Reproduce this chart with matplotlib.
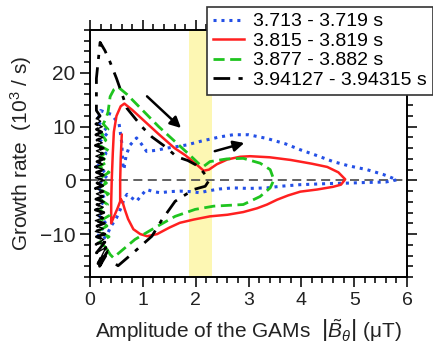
import matplotlib

matplotlib.use("Agg")
import matplotlib.pyplot as plt
from matplotlib.ticker import MultipleLocator

plt.rcParams["font.family"] = ["Liberation Sans", "DejaVu Sans"]
plt.rcParams["mathtext.fontset"] = "custom"
plt.rcParams["mathtext.rm"] = "Liberation Sans"
plt.rcParams["mathtext.it"] = "Liberation Sans:italic"

# ---- data: |B_theta| (uT) vs growth rate (1e3/s) ----
labels = ["3.713 - 3.719 s", "3.815 - 3.819 s", "3.877 - 3.882 s", "3.94127 - 3.94315 s"]

blue_x = [0.14, 0.3, 0.12, 0.28, 0.15, 0.33, 0.13, 0.3, 0.16, 0.35, 0.14, 0.2,
          0.4, 0.55, 0.6, 0.62, 0.64, 0.68, 0.75, 0.88, 0.97, 1.07, 1.25, 1.45,
          1.65, 1.83, 2.1, 2.46, 2.71, 3.0, 3.35, 3.7, 3.98, 4.3, 4.6, 4.9,
          5.24, 5.55, 5.81, 5.6, 5.2, 4.92, 4.5, 3.98, 3.6, 3.35, 3.0, 2.71,
          2.45, 2.21, 2.08, 1.9, 1.7, 1.5, 1.33, 1.2, 1.07, 0.97, 0.88, 0.78,
          0.7, 0.64, 0.6, 0.5, 0.4, 0.34, 0.25, 0.15]
blue_y = [-10.5, -8, -6, -3.5, -1, 1, 3, 5, 7, 9, 11, 13,
          12.3, 10.5, 7, 3, 2, 4.5, 6.5, 7.9, 6.8, 5.4, 5.6, 6.0,
          6.3, 6.6, 7.3, 8.1, 8.5, 8.5, 7.8, 6.8, 5.7, 4.6, 3.5, 2.7,
          2.0, 1.1, 0.1, -0.3, -0.4, -0.5, -0.6, -0.8, -1.1, -1.4, -1.5, -1.4,
          -1.6, -2.0, -2.3, -2.1, -2.0, -2.1, -2.3, -2.1, -1.7, -2.8, -3.9, -3.2,
          -2.6, -3.5, -4.8, -7.0, -8.5, -9.7, -11.0, -10.5]

red_x = [0.6, 0.58, 0.57, 0.57, 0.52, 0.45, 0.4, 0.4, 0.41, 0.43, 0.45, 0.5,
         0.58, 0.65, 0.8, 1.0, 1.3, 1.6, 1.8, 2.0, 2.15, 2.25, 2.4, 2.6,
         2.84, 3.03, 3.4, 3.8, 4.2, 4.49, 4.7, 4.83, 4.75, 4.6, 4.3, 3.98,
         3.75, 3.54, 3.35, 3.16, 2.9, 2.6, 2.27, 1.96, 1.7, 1.5, 1.27, 1.08,
         0.95, 0.82, 0.72, 0.66, 0.62, 0.59]
red_y = [8.5, 4, 0, -3.9, -5.2, -6.8, -8.0, -4, 0, 5, 9, 12,
         13.8, 14.3, 13.1, 11.3, 8.6, 6.0, 4.7, 3.1, 1.8, 2.0, 3.0, 3.9,
         4.4, 4.5, 4.3, 3.8, 3.1, 2.5, 1.5, 0.2, -0.8, -1.2, -1.7, -2.1,
         -2.8, -3.6, -4.5, -5.2, -5.9, -6.4, -6.7, -7.3, -7.9, -8.8, -10.0, -10.4,
         -10.0, -9.1, -7.2, -5.5, -4.2, -3.6]

green_x = [0.3, 0.18, 0.36, 0.15, 0.32, 0.2, 0.37, 0.16, 0.33, 0.19, 0.35, 0.15,
           0.31, 0.2, 0.36, 0.17, 0.33, 0.2, 0.36, 0.18, 0.3, 0.22, 0.34, 0.25,
           0.3, 0.34, 0.38, 0.45, 0.53, 0.7, 1.0, 1.3, 1.6, 1.9, 2.08, 2.15,
           2.27, 2.59, 2.9, 3.22, 3.41, 3.48, 3.41, 3.22, 2.9, 2.34, 1.99, 1.61,
           1.23, 0.85, 0.44, 0.38, 0.3]
green_y = [-12.5, -11.5, -10.5, -9.5, -8.5, -7.5, -6.5, -5.5, -4.5, -3.5, -2.5, -1.5,
           -0.5, 0.5, 1.5, 2.5, 3.5, 4.5, 5.5, 6.5, 7.5, 8.5, 9.5, 10.5,
           11.5, 12.7, 15.6, 16.9, 17.4, 16.0, 13.0, 10.0, 7.3, 4.6, 2.9, 2.6,
           3.5, 4.0, 4.1, 3.2, 2.0, 0.1, -1.4, -3.0, -4.5, -4.8, -5.4, -6.7,
           -8.8, -11.0, -14.4, -13.8, -12.5]

# dense scribble near the origin (first 56 points), then the big dash-dot loop
black_x = [0.3, 0.18, 0.34, 0.15, 0.3, 0.12, 0.28, 0.1, 0.26, 0.12, 0.28, 0.1,
           0.25, 0.13, 0.27, 0.1, 0.24, 0.12, 0.26, 0.1, 0.25, 0.13, 0.27, 0.11,
           0.24, 0.12, 0.26, 0.1, 0.24, 0.13, 0.27, 0.1, 0.25, 0.12, 0.26, 0.1,
           0.24, 0.13, 0.26, 0.11, 0.24, 0.12, 0.25, 0.1, 0.23, 0.13, 0.24, 0.11,
           0.22, 0.12, 0.23, 0.11, 0.2, 0.13, 0.19, 0.12,
           0.12, 0.19, 0.28, 0.38, 0.5, 0.7, 0.98, 1.17, 1.42, 1.64, 1.85, 2.0,
           2.12, 2.21, 2.24, 2.18, 1.96, 1.61, 1.35, 1.17, 0.85, 0.53, 0.4]
black_y = [-14, -16, -13, -15.5, -12.5, -13.5, -11.5, -12, -11, -10.5, -10, -9.5,
           -9, -8.5, -8, -7.5, -7, -6.5, -6, -5.5, -5, -4.5, -4, -3.5,
           -3, -2.5, -2, -1.5, -1, -0.5, 0, 0.5, 1, 1.5, 2, 2.5,
           3, 3.5, 4, 4.5, 5, 5.5, 6, 6.5, 7, 7.5, 8, 8.5,
           9, 9.5, 10, 10.5, 11, 11.5, 12, 13,
           19, 25.7, 24.2, 22, 19, 13.4, 10, 8.1, 6.3, 4.4, 3.7, 2.9,
           1.8, 0.7, -0.2, -1.1, -1.7, -3.9, -7.5, -10.4, -13.2, -15.9, -15.0]
n_scribble = 56

band = (1.87, 2.3)
arrows = [((1.04, 16.0), (1.76, 9.4)), ((2.31, 5.3), (2.97, 7.1))]

fig = plt.figure(figsize=(4.33, 3.45), dpi=100)
ax = fig.add_axes([0.208, 0.197, 0.732, 0.716])

ax.axvspan(*band, color="#fdf7b3", lw=0, zorder=0)
ax.axhline(0, color="#555555", ls=(0, (5, 3)), lw=1.3, zorder=1)

ax.plot(blue_x, blue_y, color="#2450e6", ls=(0, (1, 1.6)), lw=2.2, label=labels[0])
ax.plot(red_x, red_y, color="#ff2020", ls="-", lw=1.8, label=labels[1])
# the scribble is so dense in the original that it reads as nearly solid
ax.plot(black_x[:n_scribble], black_y[:n_scribble], color="black", lw=1.0, zorder=2.5)
ax.plot(green_x, green_y, color="#1fc41f", ls=(0, (4, 2)), lw=2.0, label=labels[2])
ax.plot(black_x, black_y, color="black", ls=(0, (6, 3, 1.5, 3)), lw=2.0, label=labels[3])

for start, end in arrows:
    ax.annotate("", xy=end, xytext=start,
                arrowprops=dict(arrowstyle="-|>", lw=1.8, color="black", mutation_scale=16))

ax.set_xlim(0, 6)
ax.set_ylim(-18, 28)
ax.xaxis.set_major_locator(MultipleLocator(1))
ax.xaxis.set_minor_locator(MultipleLocator(0.2))
ax.yaxis.set_major_locator(MultipleLocator(10))
ax.yaxis.set_minor_locator(MultipleLocator(2))
ax.tick_params(which="both", direction="out", top=True, right=True, width=1.3,
               colors="#222222")
ax.tick_params(axis="x", labelsize=14)
ax.tick_params(axis="y", labelsize=15)
ax.tick_params(which="major", length=7)
ax.tick_params(which="minor", length=4)
for s in ax.spines.values():
    s.set_linewidth(1.4)

ax.set_xlabel(r"Amplitude of the GAMs  $\left|\tilde{B}_{\theta}\right|$ ($\mathrm{\mu}$T)",
              fontsize=15, color="#222222", labelpad=6)
ax.set_ylabel(r"Growth rate  (10$^{3}$ / s)", fontsize=15, color="#222222", labelpad=4)

leg = ax.legend(loc="upper right", bbox_to_anchor=(1.0, 0.98), bbox_transform=fig.transFigure,
                fontsize=14, handlelength=1.6, handletextpad=0.5, labelspacing=0.1,
                borderpad=0.3, borderaxespad=0, fancybox=False, framealpha=1)
leg.get_frame().set_edgecolor("#333333")
leg.get_frame().set_linewidth(1.2)

fig.savefig("out.png", dpi=100)
